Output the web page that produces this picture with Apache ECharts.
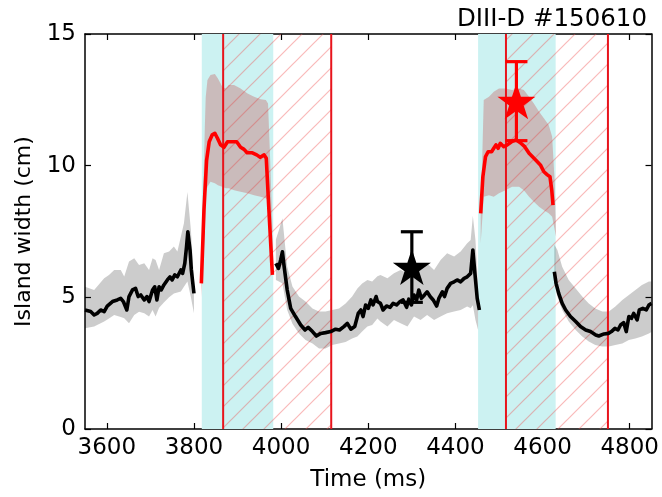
<!DOCTYPE html>
<html><head><meta charset="utf-8">
<script src="https://cdn.jsdelivr.net/npm/echarts@6/dist/echarts.min.js"></script>
<style>html,body{margin:0;padding:0;background:#fff}#c{width:662px;height:497px}</style>
</head><body><div id="c"></div>
<script>
// ---------- data ----------
const xTicks = [3600, 3800, 4000, 4200, 4400, 4600, 4800];
const cyanWindows = [[3818, 3982], [4452, 4630]];
const hatchWindows = [[3867, 4115], [4516, 4750]];
const redLines = [3867, 4115, 4516, 4750];

const black1T = [3550,3563,3571,3578,3586,3594,3601,3613,3624,3632,3638,3646,3651,3659,3666,3672,3678,3686,3692,3697,3705,3710,3715,3720,3725,3731,3739,3745,3750,3756,3762,3770,3774,3779,3783,3786,3791,3794,3800];
const black1W = [4.52,4.46,4.33,4.39,4.52,4.46,4.67,4.84,4.9,4.96,4.84,4.52,5.03,5.28,5.34,5.03,5.09,4.9,5.03,4.84,5.28,5.4,4.9,5.4,5.28,5.47,5.66,5.78,5.66,5.85,5.78,6.04,5.91,6.29,6.92,7.49,6.8,6.04,5.15];
const red1T = [3817,3823,3829,3835,3842,3848,3854,3861,3869,3877,3888,3898,3907,3915,3922,3934,3944,3952,3961,3966,3972,3980];
const red1W = [5.53,8.32,10.2,10.91,11.17,11.23,11.04,10.79,10.7,10.91,10.91,10.91,10.7,10.62,10.49,10.49,10.41,10.32,10.41,10.28,8.32,5.85];
const black2T = [3988,3994,3999,4003,4007,4014,4022,4033,4045,4055,4062,4072,4081,4091,4102,4114,4125,4134,4144,4152,4160,4169,4177,4183,4188,4194,4200,4206,4211,4218,4221,4228,4234,4242,4250,4257,4265,4273,4280,4288,4293,4299,4305,4311,4316,4322,4329,4335,4342,4349,4357,4362,4370,4375,4381,4389,4397,4404,4412,4420,4427,4435,4440,4444,4450,4455];
const black2W = [6.29,6.1,6.42,6.73,6.16,5.28,4.58,4.27,3.95,3.76,3.86,3.7,3.53,3.63,3.66,3.7,3.79,3.76,3.89,4.01,3.79,3.89,4.39,4.52,4.27,4.71,4.58,4.9,4.71,5.03,4.84,4.77,4.52,4.67,4.62,4.77,4.71,4.84,4.9,4.62,4.93,4.71,5.09,4.9,5.28,4.96,5.09,5.21,5.03,4.9,4.67,4.96,5.21,5.03,5.34,5.53,5.59,5.66,5.59,5.72,5.78,5.91,6.8,6.04,4.96,4.52];
const red2T = [4458,4463,4469,4475,4483,4488,4493,4498,4503,4511,4519,4529,4539,4549,4559,4569,4578,4588,4595,4603,4611,4617,4621,4624];
const red2W = [8.19,9.58,10.34,10.53,10.53,10.66,10.79,10.66,10.85,10.72,10.79,10.91,10.98,10.87,10.72,10.47,10.32,10.15,10.03,9.77,9.65,9.58,9.08,8.5];
const black3T = [4627,4631,4637,4645,4653,4664,4676,4687,4699,4710,4722,4729,4741,4751,4758,4766,4773,4779,4786,4792,4798,4804,4809,4817,4822,4830,4838,4844,4850];
const black3W = [5.97,5.53,5.15,4.77,4.52,4.27,4.08,3.89,3.76,3.7,3.57,3.53,3.61,3.63,3.7,3.82,3.76,3.95,4.04,3.7,4.27,4.2,4.39,4.14,4.52,4.58,4.52,4.71,4.77];

// uncertainty bands
const gray1T = [3550,3571,3594,3605,3617,3632,3640,3651,3663,3674,3686,3697,3705,3712,3720,3731,3743,3754,3762,3770,3777,3785,3793,3800];
const gray1Lo = [3.83,3.89,4.08,4.2,4.33,4.25,4.21,4.02,4.33,4.45,4.4,4.27,4.52,4.27,4.6,4.8,5.0,5.15,5.18,5.22,5.4,5.6,5.0,4.4];
const gray1Hi = [5.4,5.28,5.72,5.85,6.04,6.04,5.79,6.36,6.48,6.23,6.29,6.04,6.48,6.42,6.04,6.67,6.74,6.93,6.74,7.31,7.81,9.0,7.56,5.66];
const gray2T = [3988,3995,4003,4014,4026,4041,4056,4072,4087,4102,4117,4133,4148,4163,4175,4186,4198,4209,4221,4228,4244,4259,4274,4290,4305,4320,4335,4351,4366,4381,4397,4412,4427,4435,4440,4446,4452];
const gray2Lo = [5.66,5.6,5.53,4.52,4.0,3.63,3.38,3.25,3.06,3.06,3.19,3.25,3.3,3.44,3.51,3.7,3.89,3.95,4.2,4.08,3.89,4.14,4.02,3.89,4.27,4.14,4.33,4.14,4.27,4.4,4.46,4.52,4.65,4.59,4.7,4.14,3.76];
const gray2Hi = [7.2,7.56,8.0,6.17,5.41,5.03,4.84,4.58,4.46,4.46,4.52,4.58,4.77,5.03,5.34,5.53,5.66,5.6,5.8,5.85,5.72,5.91,6.04,5.91,6.23,6.17,6.29,6.04,6.42,6.67,6.55,6.74,7.05,7.18,8.1,7.18,5.41];
const gray3T = [4627,4634,4645,4660,4676,4691,4706,4721,4737,4752,4767,4783,4798,4813,4828,4844,4850];
const gray3Lo = [5.53,5.03,4.52,4.08,3.76,3.51,3.32,3.19,3.13,3.13,3.19,3.25,3.38,3.44,3.51,3.63,3.68];
const gray3Hi = [7.0,6.8,6.16,5.66,5.34,5.03,4.77,4.58,4.46,4.46,4.65,4.9,5.09,5.28,5.47,5.6,5.6];
const redBand1T = [3817,3825,3827,3831,3838,3848,3855,3865,3873,3880,3892,3907,3923,3938,3953,3965,3970,3975,3980];
const redBand1Lo = [5.0,7.5,8.95,9.2,9.39,9.33,9.26,9.2,9.14,9.14,9.07,9.01,8.95,8.88,8.82,8.76,8.69,7.93,6.4];
const redBand1Hi = [6.0,11.48,12.6,13.25,13.44,13.48,13.31,13.0,12.93,13.06,13.06,12.93,12.74,12.62,12.52,12.49,12.36,10.2,7.7];
const redBand2T = [4458,4465,4477,4488,4500,4515,4530,4546,4557,4569,4580,4592,4603,4614,4622,4628,4631];
const redBand2Lo = [7.05,8.82,8.88,8.82,8.95,9.07,9.2,9.2,9.07,8.82,8.63,8.44,8.31,8.19,8.06,7.55,7.3];
const redBand2Hi = [8.06,12.49,12.62,12.81,12.93,12.93,12.87,12.93,12.87,12.62,12.36,12.05,11.8,11.54,11.1,9.3,7.3];

// markers with error bars: [time, width, error]
const blackStar = [[4300, 6.15, 1.34]];
const redStar = [[4540, 12.45, 1.5]];

// ---------- chart ----------
const FONT = 'DejaVu Sans';
const chart = echarts.init(document.getElementById('c'), null, {renderer: 'canvas'});

function makeHatch() {
  const s = 21, c = document.createElement('canvas');
  c.width = s; c.height = s;
  const g = c.getContext('2d');
  g.strokeStyle = 'rgba(240,80,80,0.4)';
  g.lineWidth = 1.2;
  g.beginPath();
  g.moveTo(-2, s + 2); g.lineTo(s + 2, -2);
  g.moveTo(-2, 2); g.lineTo(2, -2);
  g.moveTo(s - 2, s + 2); g.lineTo(s + 2, s - 2);
  g.stroke();
  return c;
}
const hatchPattern = {image: makeHatch(), repeat: 'repeat'};

function pairs(T, W) { return T.map((t, i) => [t, W[i]]); }

function rectSeries(windows, fill, z) {
  return {
    type: 'custom', z, silent: true, clip: true,
    data: windows.map(w => [w[0], w[1]]),
    encode: {x: [0, 1]},
    renderItem(params, api) {
      const p0 = api.coord([api.value(0), 15]);
      const p1 = api.coord([api.value(1), 0]);
      return {type: 'rect', shape: {x: p0[0], y: p0[1], width: p1[0] - p0[0], height: p1[1] - p0[1]}, style: {fill}};
    }
  };
}

function vlineSeries(xs, z) {
  return {
    type: 'custom', z, silent: true,
    data: xs.map(x => [x]),
    encode: {x: 0},
    renderItem(params, api) {
      const p0 = api.coord([api.value(0), 15]);
      const p1 = api.coord([api.value(0), 0]);
      return {type: 'line', shape: {x1: p0[0], y1: p0[1], x2: p1[0], y2: p1[1]}, style: {stroke: '#e8141c', lineWidth: 2}};
    }
  };
}

function bandSeries(T, LO, HI, fill, z) {
  return {
    type: 'custom', z, silent: true, clip: true,
    data: T.map((t, i) => [t, LO[i], HI[i]]),
    encode: {x: 0, y: [1, 2]},
    renderItem(params, api) {
      if (params.dataIndex !== 0) return null;
      const pts = [];
      for (let i = 0; i < T.length; i++) pts.push(api.coord([T[i], HI[i]]));
      for (let i = T.length - 1; i >= 0; i--) pts.push(api.coord([T[i], LO[i]]));
      return {type: 'polygon', shape: {points: pts}, style: {fill}};
    }
  };
}

function lineSeries(T, W, color, z) {
  return {
    type: 'line', z, silent: true, showSymbol: false, symbol: 'none',
    data: pairs(T, W),
    lineStyle: {color, width: 3.6, join: 'round'},
    animation: false
  };
}

function errSeries(pts, color, z) {
  return {
    type: 'custom', z, silent: true,
    data: pts.map(p => [p[0], p[1], p[1] - p[2], p[1] + p[2]]),
    encode: {x: 0, y: [2, 3]},
    renderItem(params, api) {
      const x = api.value(0);
      const lo = api.coord([x, api.value(2)]);
      const hi = api.coord([x, api.value(3)]);
      const w = 11;
      const st = {stroke: color, lineWidth: 3.2};
      return {type: 'group', children: [
        {type: 'line', shape: {x1: lo[0], y1: lo[1], x2: hi[0], y2: hi[1]}, style: st},
        {type: 'line', shape: {x1: hi[0] - w, y1: hi[1], x2: hi[0] + w, y2: hi[1]}, style: st},
        {type: 'line', shape: {x1: lo[0] - w, y1: lo[1], x2: lo[0] + w, y2: lo[1]}, style: st}
      ]};
    }
  };
}

const starPath = 'path://M50,0 L61.2,34.5 L97.6,34.5 L68.2,55.9 L79.4,90.5 L50,69.1 L20.6,90.5 L31.8,55.9 L2.4,34.5 L38.8,34.5 Z';
function starSeries(pts, color, z) {
  return {
    type: 'scatter', z, silent: true,
    data: pts.map(p => [p[0], p[1]]),
    symbol: starPath, symbolSize: [38, 36],
    itemStyle: {color, opacity: 1},
    animation: false
  };
}

const axisLine = {show: true, onZero: false, lineStyle: {color: '#000', width: 1.5}};
const tick = {show: true, inside: true, length: 6, lineStyle: {color: '#000', width: 1.2}};
const plain = v => String(v);

chart.setOption({
  animation: false,
  backgroundColor: '#fff',
  title: {text: 'DIII-D #150610', right: 10, top: 2,
    textStyle: {fontFamily: FONT, fontSize: 24.5, fontWeight: 'normal', color: '#000'}},
  grid: {left: 85, right: 9, top: 34, bottom: 68},
  xAxis: [
    {type: 'value', min: 3550, max: 4850, position: 'bottom',
      axisLine, axisTick: Object.assign({customValues: xTicks}, tick),
      axisLabel: {customValues: xTicks, formatter: plain, fontFamily: FONT, fontSize: 23, color: '#000', margin: 8},
      splitLine: {show: false},
      name: 'Time (ms)', nameLocation: 'middle', nameGap: 40,
      nameTextStyle: {fontFamily: FONT, fontSize: 23, color: '#000'}},
    {type: 'value', min: 3550, max: 4850, position: 'top',
      axisLine, axisTick: Object.assign({customValues: xTicks}, tick),
      axisLabel: {show: false}, splitLine: {show: false}}
  ],
  yAxis: [
    {type: 'value', min: 0, max: 15, interval: 5, position: 'left',
      axisLine, axisTick: tick,
      axisLabel: {formatter: plain, fontFamily: FONT, fontSize: 23, color: '#000', margin: 9},
      splitLine: {show: false},
      name: 'Island width (cm)', nameLocation: 'middle', nameGap: 50, nameRotate: 90,
      nameTextStyle: {fontFamily: FONT, fontSize: 22, color: '#000'}},
    {type: 'value', min: 0, max: 15, interval: 5, position: 'right',
      axisLine, axisTick: tick, axisLabel: {show: false}, splitLine: {show: false}}
  ],
  series: [
    rectSeries(cyanWindows, 'rgb(204,242,242)', 1),
    rectSeries(hatchWindows, hatchPattern, 2),
    bandSeries(gray1T, gray1Lo, gray1Hi, 'rgba(0,0,0,0.2)', 3),
    bandSeries(gray2T, gray2Lo, gray2Hi, 'rgba(0,0,0,0.2)', 3),
    bandSeries(gray3T, gray3Lo, gray3Hi, 'rgba(0,0,0,0.2)', 3),
    bandSeries(redBand1T, redBand1Lo, redBand1Hi, 'rgba(200,60,60,0.3)', 3),
    bandSeries(redBand2T, redBand2Lo, redBand2Hi, 'rgba(200,60,60,0.3)', 3),
    vlineSeries(redLines, 4),
    lineSeries(black1T, black1W, '#000', 5),
    lineSeries(black2T, black2W, '#000', 5),
    lineSeries(black3T, black3W, '#000', 5),
    lineSeries(red1T, red1W, '#ff0000', 5),
    lineSeries(red2T, red2W, '#ff0000', 5),
    errSeries(blackStar, '#000', 6),
    errSeries(redStar, '#ff0000', 6),
    starSeries(blackStar, '#000', 7),
    starSeries(redStar, '#ff0000', 7)
  ]
});
</script></body></html>
